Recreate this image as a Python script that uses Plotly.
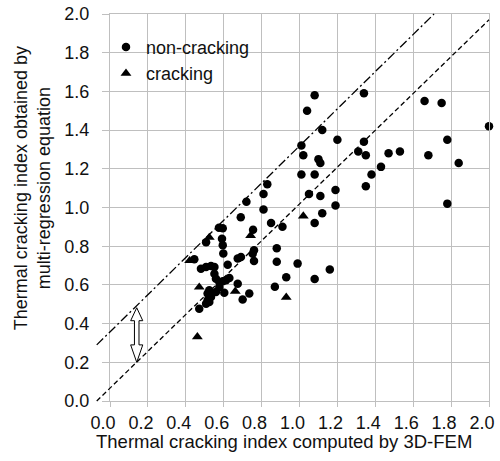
import plotly.graph_objects as go

# ---------------- data ----------------
noncrack_x = [1.08, 1.04, 1.34, 1.66, 1.75, 2.00, 1.12, 1.20, 1.34, 1.01, 1.02, 1.10, 1.11,
              1.31, 1.35, 1.47, 1.53, 1.78, 1.68, 1.84, 1.43, 1.38, 1.35, 1.78, 1.01, 1.08,
              0.83, 0.81, 1.05, 1.11, 1.19, 1.19, 0.81, 1.12, 1.08, 0.85, 0.91, 0.72, 0.69,
              0.575, 0.595, 0.755, 0.88, 0.88, 0.99, 0.93, 1.08, 1.16, 0.87, 0.507, 0.591,
              0.595, 0.598, 0.76, 0.753, 0.76, 0.691, 0.674, 0.445, 0.621, 0.48, 0.507, 0.533,
              0.551, 0.551, 0.559, 0.577, 0.595, 0.612, 0.63, 0.674, 0.524, 0.515, 0.533,
              0.515, 0.507, 0.524, 0.559, 0.577, 0.603, 0.735, 0.70, 0.471]
noncrack_y = [1.58, 1.50, 1.59, 1.55, 1.54, 1.42, 1.40, 1.35, 1.34, 1.32, 1.27, 1.25, 1.23,
              1.29, 1.27, 1.28, 1.29, 1.35, 1.27, 1.23, 1.21, 1.17, 1.11, 1.02, 1.17, 1.17,
              1.12, 1.07, 1.07, 1.06, 1.09, 1.01, 0.99, 0.97, 0.92, 0.92, 0.90, 1.03, 0.95,
              0.895, 0.893, 0.885, 0.79, 0.72, 0.71, 0.64, 0.63, 0.68, 0.59, 0.82, 0.838,
              0.805, 0.762, 0.779, 0.761, 0.724, 0.744, 0.736, 0.732, 0.704, 0.684, 0.693, 0.698,
              0.693, 0.658, 0.632, 0.615, 0.619, 0.624, 0.636, 0.606, 0.572, 0.555, 0.537,
              0.52, 0.503, 0.512, 0.563, 0.589, 0.56, 0.555, 0.524, 0.477]

crack_x = [0.42, 0.524, 0.742, 0.471, 0.661, 0.461, 0.93, 1.02]
crack_y = [0.725, 0.845, 0.855, 0.588, 0.567, 0.332, 0.536, 0.956]

# reference lines (end points in data units)
dashed_x = [-0.07, 2.0]
dashed_y = [0.0, 1.97]
dashdot_x = [-0.07, 1.71]
dashdot_y = [0.29, 2.0]

# double arrow marking the band width
arrow_x = 0.141
arrow_top, arrow_bottom = 0.482, 0.200
arrow_head_top, arrow_head_bottom = 0.415, 0.290
arrow_head_half, arrow_shaft_half = 0.032, 0.012

X_RANGE = [0.0, 2.0]
Y_RANGE = [0.0, 2.0]
FONT = "Liberation Sans, Arial, sans-serif"
GRID = "#bfbfbf"
TXT = "#111111"


def px_(v):
    return (v - X_RANGE[0]) / (X_RANGE[1] - X_RANGE[0])


def py_(v):
    return (v - Y_RANGE[0]) / (Y_RANGE[1] - Y_RANGE[0])


fig = go.Figure()
fig.add_trace(go.Scatter(x=noncrack_x, y=noncrack_y, mode="markers", name="non-cracking",
                         cliponaxis=False,
                         marker=dict(symbol="circle", size=8.5, color="black")))
fig.add_trace(go.Scatter(x=crack_x, y=crack_y, mode="markers", name="cracking",
                         cliponaxis=False,
                         marker=dict(symbol="triangle-up", size=9.5, color="black")))

fig.add_shape(type="line", xref="paper", yref="paper",
              x0=px_(dashed_x[0]), y0=py_(dashed_y[0]), x1=px_(dashed_x[1]), y1=py_(dashed_y[1]),
              line=dict(color="black", width=1.3, dash="5px,3px"))
fig.add_shape(type="line", xref="paper", yref="paper",
              x0=px_(dashdot_x[0]), y0=py_(dashdot_y[0]), x1=px_(dashdot_x[1]), y1=py_(dashdot_y[1]),
              line=dict(color="black", width=1.3, dash="9px,3px,2px,3px"))

ax = arrow_x
pts = [(ax, arrow_top), (ax + arrow_head_half, arrow_head_top), (ax + arrow_shaft_half, arrow_head_top),
       (ax + arrow_shaft_half, arrow_head_bottom), (ax + arrow_head_half, arrow_head_bottom),
       (ax, arrow_bottom), (ax - arrow_head_half, arrow_head_bottom), (ax - arrow_shaft_half, arrow_head_bottom),
       (ax - arrow_shaft_half, arrow_head_top), (ax - arrow_head_half, arrow_head_top)]
path = "M " + " L ".join(f"{x},{y}" for x, y in pts) + " Z"
fig.add_shape(type="path", xref="x", yref="y", path=path, fillcolor="white",
              line=dict(color="black", width=1))

# white panel behind the legend that hides the gridlines there
fig.add_shape(type="rect", xref="paper", yref="paper", layer="between",
              x0=0.004, x1=0.383, y0=0.824, y1=0.951,
              fillcolor="white", line=dict(width=0))

axis_common = dict(dtick=0.2, tick0=0, tickformat=".1f", showgrid=True, gridcolor=GRID,
                   gridwidth=1, zeroline=False, showline=True, linecolor=GRID, linewidth=1, mirror=True,
                   ticks="outside", tickcolor=GRID, automargin=False, ticklabeloverflow="allow",
                   tickfont=dict(family=FONT, size=18, color=TXT))

fig.update_xaxes(**axis_common, range=X_RANGE, ticklen=5, ticklabelshift=-7)
fig.update_yaxes(**axis_common, range=Y_RANGE, ticklen=7, ticklabelstandoff=9)

fig.add_annotation(xref="paper", yref="paper", x=0.458, y=0, yshift=-40,
                   text="Thermal cracking index computed by 3D-FEM",
                   showarrow=False, xanchor="center", yanchor="middle",
                   font=dict(family=FONT, size=18.5, color=TXT))
fig.add_annotation(xref="paper", yref="paper", x=0, y=py_(1.10), xshift=-78,
                   text="Thermal cracking index obtained by<br>multi-regression equation",
                   textangle=-90, showarrow=False, xanchor="center", yanchor="middle",
                   font=dict(family=FONT, size=18, color=TXT))

fig.update_layout(
    width=500, height=461,
    margin=dict(l=110, r=11, t=14, b=60),
    plot_bgcolor="white", paper_bgcolor="white",
    showlegend=True,
    legend=dict(x=-0.0106, y=0.962, xanchor="left", yanchor="top", bgcolor="rgba(0,0,0,0)",
                borderwidth=0, font=dict(family=FONT, size=18, color=TXT)),
)

fig.write_html("out.html", config={"displayModeBar": False},
               post_script="document.body.style.margin='0';")
